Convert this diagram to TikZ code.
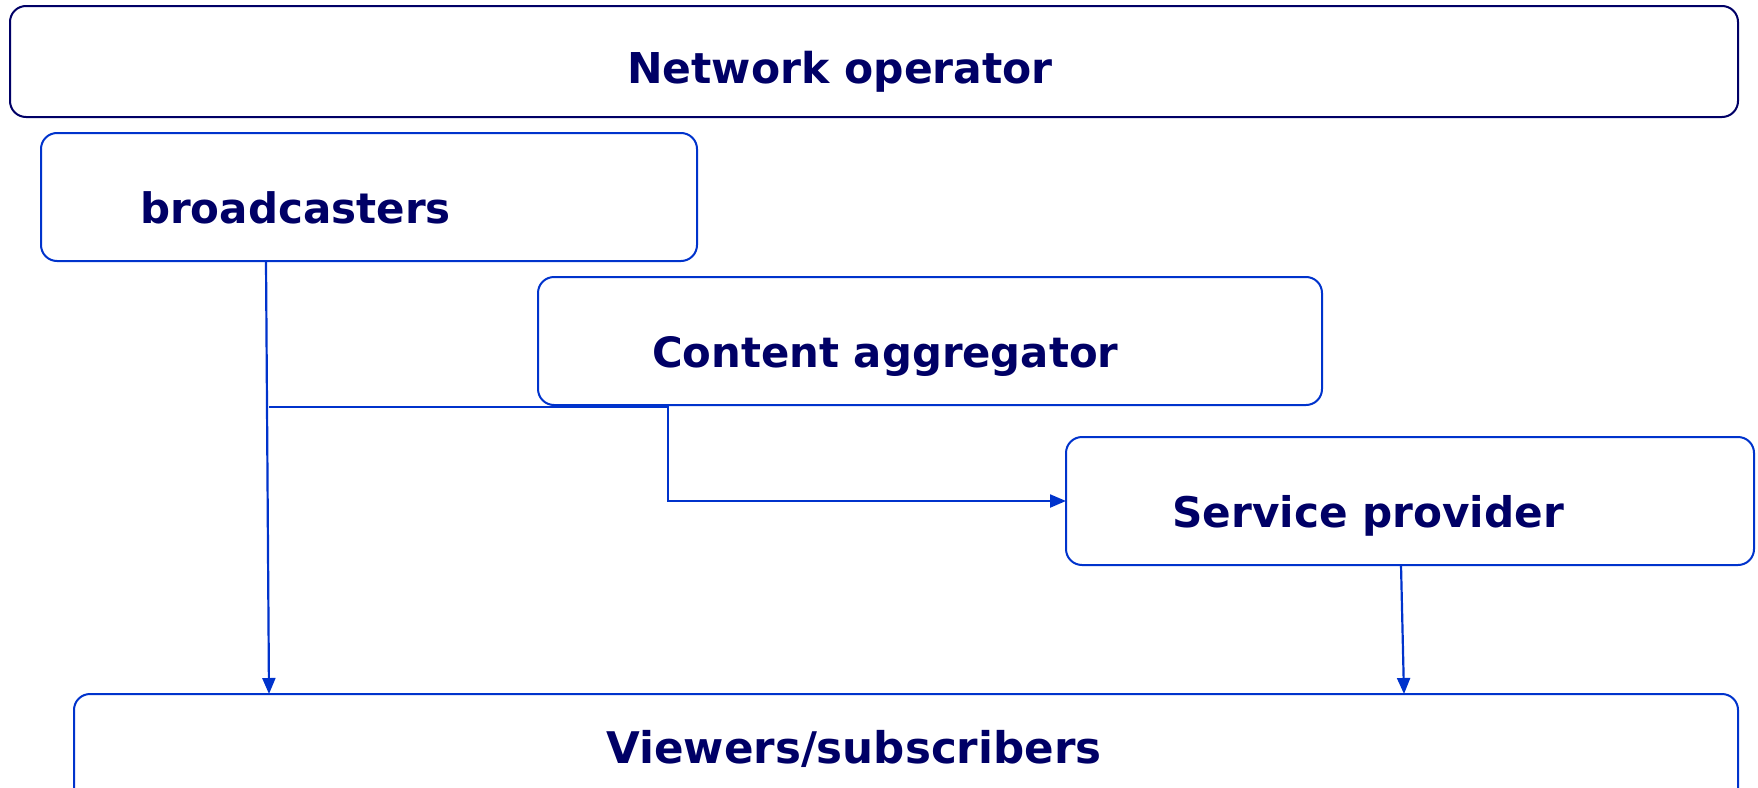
\documentclass[tikz,border=0pt]{standalone}
\usepackage{fontspec}
\setmainfont{DejaVu Sans}
\usetikzlibrary{arrows.meta,calc}
\definecolor{navy}{HTML}{000066}
\definecolor{lblue}{HTML}{0033CC}
\newcommand{\lblsize}[1]{\fontsize{#1}{48}\selectfont\bfseries}
\begin{document}
\begin{tikzpicture}[x=1pt,y=-1pt,
  box/.style={draw=lblue,line width=2pt,rounded corners=16pt,anchor=north west,inner sep=0pt,outer sep=0pt},
  lbl/.style={anchor=base west,inner sep=0pt,text=navy,font=\lblsize{42.5}},
  conn/.style={draw=lblue,line width=2.2pt},
  arr/.style={conn,-{Triangle[length=16pt,width=13pt]}}]
\useasboundingbox (0,0) rectangle (1758,787);
\clip (0,0) rectangle (1758,787);
% boxes
\node[box,draw=navy,minimum width=1728pt,minimum height=111pt] (no) at (10,6) {};
\node[box,minimum width=656pt,minimum height=128pt] (bc) at (41,133) {};
\node[box,minimum width=784pt,minimum height=128pt] (ca) at (538,277) {};
\node[box,minimum width=688pt,minimum height=128pt] (sp) at (1066,437) {};
\node[box,minimum width=1664pt,minimum height=140pt] (vw) at (74,694) {};
% labels
\node[lbl] (noT) at (627,83) {Network operator};
\node[lbl,font=\lblsize{42}] (bcT) at (140,223) {broadcasters};
\node[lbl,font=\lblsize{41.8}] (caT) at (652,367) {Content aggregator};
\node[lbl,font=\lblsize{42.2}] (spT) at (1172,527) {Service provider};
\node[lbl,font=\lblsize{43.6}] (vwT) at (606,763) {Viewers/subscribers};
% connectors
\coordinate (j) at (269,407);
\coordinate (k) at ([xshift=130pt]ca.south west);
\draw[arr] ([xshift=225pt]bc.south west) -- ([xshift=195pt]vw.north west);
\draw[arr] (j) -- (j -| k) |- (sp.west);
\draw[arr] ([xshift=335pt]sp.south west) -- ([xshift=1330pt]vw.north west);
\end{tikzpicture}
\end{document}
